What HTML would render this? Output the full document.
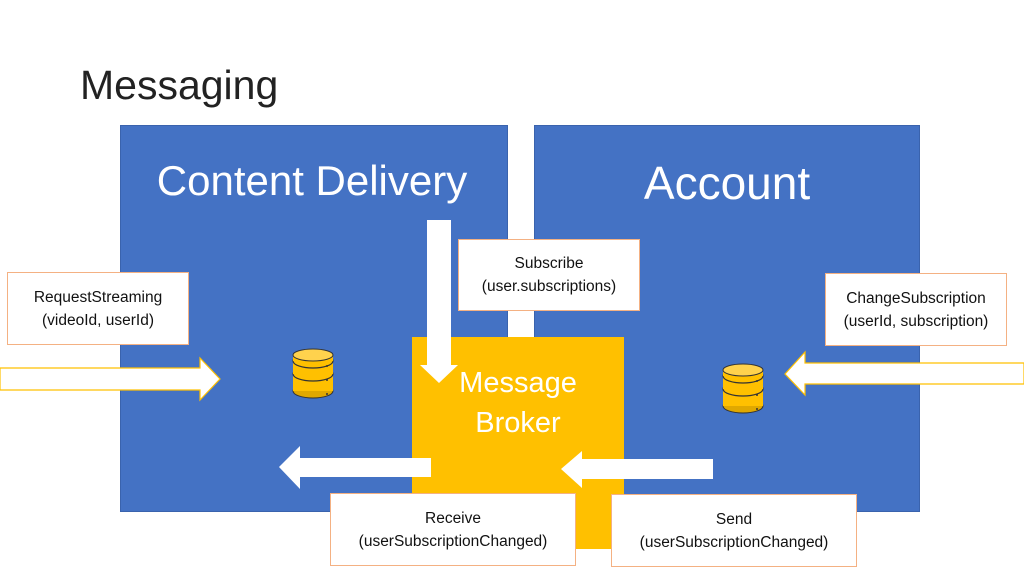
<!DOCTYPE html>
<html><head><style>
body{margin:0;width:1024px;height:576px;background:#fff;position:relative;overflow:hidden;font-family:"Liberation Sans","DejaVu Sans",sans-serif}
.a{position:absolute}
.blue{background:#4472c4;border:1px solid #3a63ad;box-sizing:border-box}
.lbl{position:absolute;background:#fff;border:1.5px solid #f4b183;box-sizing:border-box;display:flex;align-items:center;justify-content:center;text-align:center;font-size:15.5px;line-height:23px;color:#111}
.t{position:absolute;color:#fff;text-align:center;line-height:1}
</style></head><body>
<div class="a" style="left:80px;top:62px;font-size:41px;color:#222">Messaging</div>
<div class="a blue" style="left:120px;top:125px;width:388px;height:387px"></div>
<div class="a blue" style="left:534px;top:125px;width:386px;height:387px"></div>
<div class="t" style="left:120px;top:160px;width:384px;font-size:42px">Content Delivery</div>
<div class="t" style="left:534px;top:160px;width:386px;font-size:46px">Account</div>
<div class="a" style="left:412px;top:337px;width:212px;height:212px;background:#ffc000"></div>
<div class="t" style="left:412px;top:363px;width:212px;font-size:29px;line-height:40px">Message<br>Broker</div>
<svg class="a" style="left:0;top:0" width="1024" height="576">
<g fill="#fff" stroke="#ffc000" stroke-width="1.2">
<polygon points="0,368 200,368 200,358 220,379 200,400 200,390 0,390"/>
<polygon points="1024,363 805,363 805,352 785,374 805,395 805,384 1024,384"/>
</g>
<g fill="#fff">
<polygon points="427,220 451,220 451,365 458,365 439,383 420,365 427,365"/>
<polygon points="431,458 300,458 300,446 279,467 300,489 300,477 431,477"/>
<polygon points="713,459 582,459 582,451 561,469 582,488 582,479 713,479"/>
</g>
<g id="db">
<ellipse cx="313" cy="391" rx="20" ry="7" fill="#e0a800" stroke="#333" stroke-width="1"/>
<rect x="293" y="374" width="40" height="17" fill="#ffc000"/>
<ellipse cx="313" cy="374" rx="20" ry="7" fill="#ffc000" stroke="#333" stroke-width="1.2"/>
<rect x="293" y="361" width="40" height="13" fill="#ffc000"/>
<ellipse cx="313" cy="361" rx="20" ry="7" fill="#ffc000" stroke="#333" stroke-width="1.2"/>
<rect x="293" y="355" width="40" height="6" fill="#ffc000"/>
<ellipse cx="313" cy="355" rx="20" ry="6" fill="#ffd24d" stroke="#333" stroke-width="1"/>
<circle cx="327" cy="366" r="1" fill="#333"/><circle cx="327" cy="380" r="1" fill="#333"/><circle cx="327" cy="394" r="1" fill="#333"/>
</g>
<use href="#db" x="430" y="15"/>
</svg>
<div class="lbl" style="left:458px;top:239px;width:182px;height:72px">Subscribe<br>(user.subscriptions)</div>
<div class="lbl" style="left:7px;top:272px;width:182px;height:73px">RequestStreaming<br>(videoId, userId)</div>
<div class="lbl" style="left:825px;top:273px;width:182px;height:73px">ChangeSubscription<br>(userId, subscription)</div>
<div class="lbl" style="left:330px;top:493px;width:246px;height:73px">Receive<br>(userSubscriptionChanged)</div>
<div class="lbl" style="left:611px;top:494px;width:246px;height:73px">Send<br>(userSubscriptionChanged)</div>
</body></html>
